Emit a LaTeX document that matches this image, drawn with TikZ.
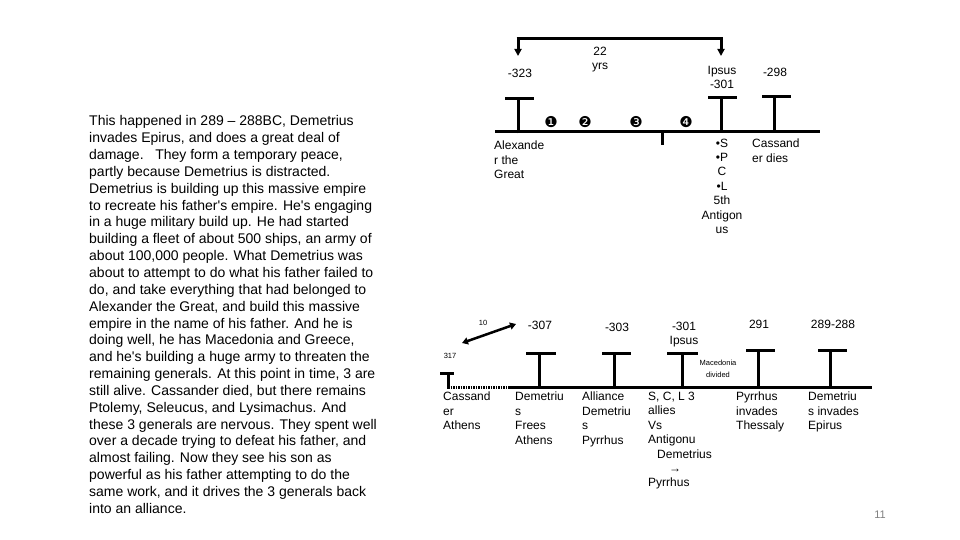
\documentclass[tikz,border=0pt]{standalone}
\usepackage{fontspec}
\setmainfont{Liberation Sans}
\newfontfamily\dejavu{DejaVu Sans}
\usetikzlibrary{arrows.meta}
\begin{document}
\begin{tikzpicture}[x=1pt,y=-1pt,
  tl/.style={line width=3pt},
  lbl/.style={font=\fontsize{12}{14.4}\selectfont, inner sep=0pt, align=left, anchor=north west},
  lblc/.style={font=\fontsize{12}{14.4}\selectfont, inner sep=0pt, align=center, anchor=north},
  tinyl/.style={font=\fontsize{7.5}{12}\selectfont, inner sep=0pt, align=center, anchor=north},
  num/.style={font=\dejavu\fontsize{15}{15}\selectfont, inner sep=0pt},
  para/.style={font=\fontsize{14}{16.85}\selectfont, inner sep=0pt, align=left, anchor=north west},
  tip/.style={-{Triangle[width=7pt,length=7pt]}},
]
\useasboundingbox (0,0) rectangle (960,540);

% ---------- paragraph ----------
\node[para] (para) at (89,115.5) {This happened in 289 -- 288BC, Demetrius\\
invades Epirus, and does a great deal of\\
damage.\ \ \ They form a temporary peace,\\
partly because Demetrius is distracted.\\
Demetrius is building up this massive empire\\
to recreate his father\textquotesingle s empire. He\textquotesingle s engaging\\
in a huge military build up. He had started\\
building a fleet of about 500 ships, an army of\\
about 100,000 people. What Demetrius was\\
about to attempt to do what his father failed to\\
do, and take everything that had belonged to\\
Alexander the Great, and build this massive\\
empire in the name of his father. And he is\\
doing well, he has Macedonia and Greece,\\
and he\textquotesingle s building a huge army to threaten the\\
remaining generals. At this point in time, 3 are\\
still alive. Cassander died, but there remains\\
Ptolemy, Seleucus, and Lysimachus. And\\
these 3 generals are nervous. They spent well\\
over a decade trying to defeat his father, and\\
almost failing. Now they see his son as\\
powerful as his father attempting to do the\\
same work, and it drives the 3 generals back\\
into an alliance.};

% ---------- top timeline ----------
\coordinate (tL) at (495,132);
\coordinate (tR) at (820,132);
\draw[tl] (tL) -- (tR);
% T markers
\coordinate (alexB) at (518,133.5); \coordinate (alexT) at (518,99);
\draw[tl] (alexB) -- (alexT); \draw[tl] (505,99) -- (534,99);
\coordinate (ipsB) at (721,132); \coordinate (ipsT) at (721,98);
\draw[tl] (ipsB) -- (ipsT); \draw[tl] (708,98) -- (737,98);
\coordinate (casB) at (774,132); \coordinate (casT) at (774,97);
\draw[tl] (casB) -- (casT); \draw[tl] (762,97) -- (791,97);
\coordinate (tick) at (662,145);
\draw[tl] (662,132) -- (tick);

% bracket arrow 22 yrs
\coordinate (brA) at (518,39);
\coordinate (brB) at (721,39);
\draw[line width=3pt, tip] (brA) -- (518,56);
\draw[line width=3pt, tip] (brB) -- (721,56);
\draw[line width=3pt] ([xshift=-1.5pt]brA) -- ([xshift=1.5pt]brB);

% circled numbers
\node[num] (n1) at (551,122) {❶};
\node[num] (n2) at (585,122) {❷};
\node[num] (n3) at (636,122) {❸};
\node[num] (n4) at (686,122) {❹};

% top labels
\node[lblc] (yrs) at (600,46.5) {22\\yrs};
\node[lblc] (m323) at (520,68.5) {-323};
\node[lblc] (ipsus) at (722,66) {Ipsus\\-301};
\node[lblc] (m298) at (775,67.5) {-298};
\node[lbl] (alex) at (494,141) {Alexande\\r the\\Great};
\node[lblc] (spcl) at (722,138.5) {•S\\•P\\C\\•L\\5th\\Antigon\\us};
\node[lbl] (cdies) at (752,139) {Cassand\\er dies};

% ---------- bottom timeline ----------
\coordinate (bS) at (510,387);
\coordinate (bR) at (872,387);
\coordinate (bD) at (448,387);
\draw[tl] (bS) -- (bR);
\draw[line width=3pt, dash pattern=on 1.5pt off 1pt] (bD) -- (bS);
% Cassander T
\draw[tl] (448,388.5) -- (448,373); \draw[tl] (440,373) -- (454,373);
% other Ts
\draw[tl] (539,387) -- (539,353); \draw[tl] (526,353) -- (556,353);
\draw[tl] (614,387) -- (614,353); \draw[tl] (602,353) -- (631,353);
\draw[tl] (682,387) -- (682,353); \draw[tl] (667,353) -- (698,353);
\draw[tl] (758,387) -- (758,350); \draw[tl] (746,350) -- (775,350);
\draw[tl] (830,387) -- (830,350); \draw[tl] (818,350) -- (847,350);

% double arrow 10 years
\coordinate (arA) at (462,343);
\coordinate (arB) at (516,324);
\draw[line width=2.5pt, {Triangle[width=7pt,length=6pt]}-{Triangle[width=7pt,length=6pt]}] (arA) -- (arB);
\node[tinyl] (ten) at (483,320) {10};
\node[tinyl] (y317) at (450,353) {317};

% bottom top-labels
\node[lblc] (m307) at (540,320.5) {-307};
\node[lblc] (m303) at (617,322.5) {-303};
\node[lblc] (m301) at (684,322) {-301\\Ipsus};
\node[lblc] (y291) at (759,319.5) {291};
\node[lblc] (y289) at (833,319.5) {289-288};
\node[tinyl] (maced) at (718,360) {Macedonia\\divided};

% bottom labels
\node[lbl] (b1) at (443,392) {Cassand\\er\\Athens};
\node[lbl] (b2) at (515,392) {Demetriu\\s\\Frees\\Athens};
\node[lbl] (b3) at (582,392) {Alliance\\Demetriu\\s\\Pyrrhus};
\node[lbl] (b4) at (648,392) {S, C, L 3\\allies\\Vs\\Antigonu\\\hspace*{9pt}Demetrius\\\hspace*{21pt}→\\Pyrrhus};
\node[lbl] (b5) at (736,392) {Pyrrhus\\invades\\Thessaly};
\node[lbl] (b6) at (808,392) {Demetriu\\s invades\\Epirus};

% page number
\node[font=\fontsize{11}{11}\selectfont, text=gray, inner sep=0pt] (pg) at (880,515) {11};
\end{tikzpicture}
\end{document}
